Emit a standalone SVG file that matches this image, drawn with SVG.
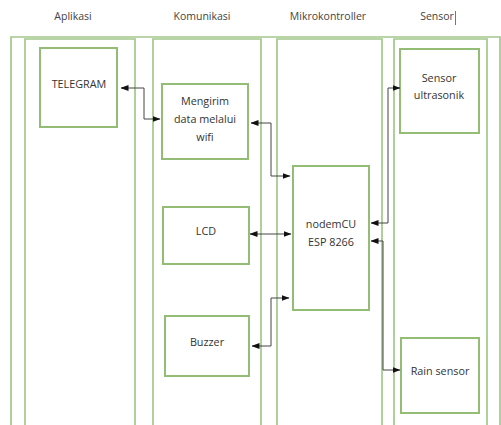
<svg xmlns="http://www.w3.org/2000/svg" width="501" height="425" viewBox="0 0 501 425">
<defs>
<style>
.lane{fill:none;stroke:#a3c88a;stroke-width:1.7}
.box{fill:#fff;stroke:#93bd74;stroke-width:2}
.t{font-family:"Open Sans","Liberation Sans",sans-serif;font-size:10.8px;fill:#333;text-anchor:middle}
.h{font-family:"Open Sans","Liberation Sans",sans-serif;font-size:10.5px;fill:#444;text-anchor:middle}
.c{fill:none;stroke:#444;stroke-width:1;marker-start:url(#a);marker-end:url(#a)}
</style>
<marker id="a" viewBox="0 0 8 6" refX="7.5" refY="3" markerWidth="8" markerHeight="6" markerUnits="userSpaceOnUse" orient="auto-start-reverse">
<path d="M0,0 L8,3 L0,6 Z" fill="#111"/>
</marker>
</defs>
<rect width="501" height="425" fill="#fff"/>
<g id="headers">
<text class="h" x="73" y="20">Aplikasi</text>
<text class="h" x="202" y="20">Komunikasi</text>
<text class="h" x="328" y="20">Mikrokontroller</text>
<text class="h" x="437" y="20">Sensor</text>
<line x1="455.5" y1="11" x2="455.5" y2="25" stroke="#777" stroke-width="1"/>
</g>
<g id="lanes">
<path class="lane" d="M11,430 V37 H500 V430"/>
<path class="lane" d="M25,430 V39 H135 V430"/>
<path class="lane" d="M153,430 V39 H261 V430"/>
<path class="lane" d="M277,430 V39 H382 V430"/>
<path class="lane" d="M394,430 V39 H487 V430"/>
</g>
<g id="telegram">
<rect class="box" x="40" y="48" width="77" height="79"/>
<text class="t" x="79" y="88">TELEGRAM</text>
</g>
<g id="mengirim">
<rect class="box" x="162" y="84" width="86" height="75"/>
<text class="t" x="205" y="105">Mengirim</text>
<text class="t" x="205" y="123">data melalui</text>
<text class="t" x="205" y="141">wifi</text>
</g>
<g id="lcd">
<rect class="box" x="163" y="207" width="86" height="57"/>
<text class="t" x="206" y="235">LCD</text>
</g>
<g id="buzzer">
<rect class="box" x="165" y="316" width="84" height="60"/>
<text class="t" x="207" y="346">Buzzer</text>
</g>
<g id="nodemcu">
<rect class="box" x="293" y="166" width="76" height="144"/>
<text class="t" x="331" y="228">nodemCU</text>
<text class="t" x="331" y="246">ESP 8266</text>
</g>
<g id="ultrasonik">
<rect class="box" x="400" y="49" width="79" height="84"/>
<text class="t" x="439" y="82">Sensor</text>
<text class="t" x="439" y="99">ultrasonik</text>
</g>
<g id="rain">
<rect class="box" x="401" y="338" width="78" height="75"/>
<text class="t" x="440" y="375">Rain sensor</text>
</g>
<g id="connectors">
<path class="c" d="M121,88 H144 V119 H160"/>
<path class="c" d="M251,123 H271 V176 H290"/>
<path class="c" d="M250,234 H291"/>
<path class="c" d="M252,346 H271 V298 H289"/>
<path class="c" d="M371,223 H388 V88 H400"/>
<path class="c" d="M371,241 H383 V370 H400"/>
</g>
</svg>
